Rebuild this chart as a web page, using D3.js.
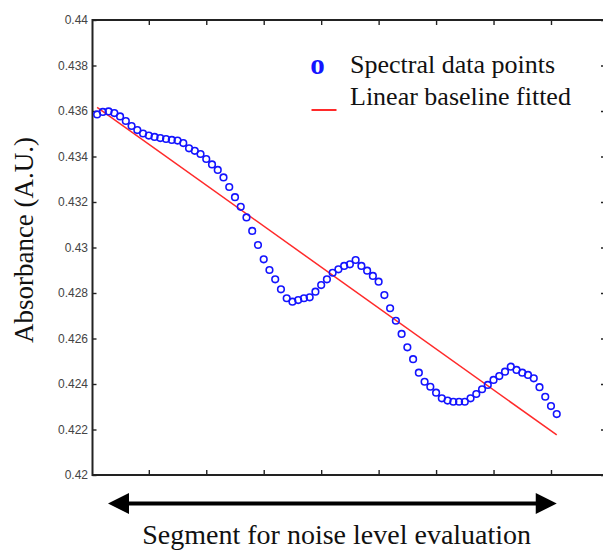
<!DOCTYPE html>
<html>
<head>
<meta charset="utf-8">
<script src="https://cdn.jsdelivr.net/npm/d3@7"></script>
<style>
  body { margin: 0; background: #fff; }
  svg { display: block; }
</style>
</head>
<body>
<svg id="chart"></svg>
<script>
// sample number of each spectral point (1..81)
const sampleIdx = [
  1, 2, 3, 4, 5, 6, 7, 8, 9, 10, 11, 12, 13, 14, 15, 16, 17, 18, 19, 20,
  21, 22, 23, 24, 25, 26, 27, 28, 29, 30, 31, 32, 33, 34, 35, 36, 37, 38, 39, 40,
  41, 42, 43, 44, 45, 46, 47, 48, 49, 50, 51, 52, 53, 54, 55, 56, 57, 58, 59, 60,
  61, 62, 63, 64, 65, 66, 67, 68, 69, 70, 71, 72, 73, 74, 75, 76, 77, 78, 79, 80, 81
];

const absorbance = [
  0.43585, 0.43596, 0.43598, 0.43591, 0.43576, 0.43556, 0.43534, 0.43516, 0.43501, 0.43492,
  0.43486, 0.43481, 0.43477, 0.43473, 0.43470, 0.43459, 0.43436, 0.43425, 0.43411, 0.43389,
  0.43365, 0.43341, 0.43308, 0.43266, 0.43221, 0.43179, 0.43132, 0.43073, 0.43011, 0.42948,
  0.42901, 0.42860, 0.42816, 0.42777, 0.42762, 0.42769, 0.42777, 0.42781, 0.42806, 0.42835,
  0.42860, 0.42889, 0.42904, 0.42919, 0.42926, 0.42945, 0.42919, 0.42898, 0.42875, 0.42850,
  0.42791, 0.42733, 0.42678, 0.42620, 0.42561, 0.42509, 0.42450, 0.42410, 0.42388, 0.42362,
  0.42337, 0.42327, 0.42322, 0.42322, 0.42322, 0.42337, 0.42356, 0.42377, 0.42396, 0.42418,
  0.42435, 0.42454, 0.42476, 0.42462, 0.42450, 0.42440, 0.42425, 0.42386, 0.42344, 0.42303,
  0.42268
];

// fitted linear baseline, end points
const baselineX = [1, 81];
const baselineY = [0.43616, 0.42176];

const xTicks = [10, 20, 30, 40, 50, 60, 70, 80];
const yTicks = [0.42, 0.422, 0.424, 0.426, 0.428, 0.43, 0.432, 0.434, 0.436, 0.438, 0.44];

// span of the noise evaluation segment (sample units)
const segment = [2.9, 81];

const legendLabels = ["Spectral data points", "Linear baseline fitted"];
const yLabel = "Absorbance (A.U.)";
const bottomLabel = "Segment for noise level evaluation";

const width = 603, height = 551;
const plot = { left: 92.5, right: 605, top: 20, bottom: 475 };

const svg = d3.select("#chart")
    .attr("width", width)
    .attr("height", height);

const x = d3.scaleLinear()
    .domain([0.2, 89.4])
    .range([plot.left, plot.right]);

const y = d3.scaleLinear()
    .domain([0.42, 0.44])
    .range([plot.bottom, plot.top]);

// axes with inward ticks
const left = svg.append("g")
    .attr("transform", "translate(" + plot.left + ",0)")
    .call(d3.axisLeft(y).tickValues(yTicks).tickSize(-4).tickPadding(4.5).tickFormat(d3.format(".3~f")));

left.selectAll("text")
    .attr("font-family", "'Liberation Sans', Arial, sans-serif")
    .attr("font-size", 12)
    .attr("fill", "#444");

svg.append("g")
    .attr("transform", "translate(" + plot.right + ",0)")
    .call(d3.axisRight(y).tickValues(yTicks).tickSize(-4).tickFormat(""));

svg.append("g")
    .attr("transform", "translate(0," + plot.bottom + ")")
    .call(d3.axisBottom(x).tickValues(xTicks).tickSize(-5).tickFormat(""));

svg.append("g")
    .attr("transform", "translate(0," + plot.top + ")")
    .call(d3.axisTop(x).tickValues(xTicks).tickSize(-5).tickFormat(""));

svg.selectAll(".domain").remove();
svg.selectAll(".tick line")
    .attr("stroke", "#222")
    .attr("stroke-width", 1.4);

// frame
svg.append("rect")
    .attr("x", plot.left)
    .attr("y", plot.top)
    .attr("width", plot.right - plot.left)
    .attr("height", plot.bottom - plot.top)
    .attr("fill", "none")
    .attr("stroke", "#222")
    .attr("stroke-width", 2);

// baseline
svg.append("line")
    .attr("x1", x(baselineX[0]))
    .attr("y1", y(baselineY[0]))
    .attr("x2", x(baselineX[1]))
    .attr("y2", y(baselineY[1]))
    .attr("stroke", "#ff2a2a")
    .attr("stroke-width", 1.5);

// spectral points
svg.append("g")
    .selectAll("circle")
    .data(sampleIdx)
    .enter().append("circle")
    .attr("cx", d => x(d))
    .attr("cy", (d, i) => y(absorbance[i]))
    .attr("r", 3.3)
    .attr("fill", "none")
    .attr("stroke", "#1414ff")
    .attr("stroke-width", 1.6);

// legend
const serif = "'Liberation Serif', 'Times New Roman', serif";

svg.append("text")
    .attr("x", 317.5)
    .attr("y", 73.5)
    .attr("text-anchor", "middle")
    .attr("font-family", serif)
    .attr("font-weight", "bold")
    .attr("font-size", 29)
    .attr("fill", "#1414ff")
    .text("o");

svg.append("line")
    .attr("x1", 311.5)
    .attr("x2", 336.5)
    .attr("y1", 110)
    .attr("y2", 110)
    .attr("stroke", "#ff2a2a")
    .attr("stroke-width", 2);

svg.selectAll(".legend-text")
    .data(legendLabels)
    .enter().append("text")
    .attr("class", "legend-text")
    .attr("x", 350)
    .attr("y", (d, i) => i === 0 ? 73.3 : 105)
    .attr("font-family", serif)
    .attr("font-size", 26)
    .attr("fill", "#111")
    .text(d => d);

// y axis title
svg.append("text")
    .attr("transform", "translate(33,240) rotate(-90)")
    .attr("text-anchor", "middle")
    .attr("font-family", serif)
    .attr("font-size", 27)
    .attr("fill", "#111")
    .text(yLabel);

// double arrow for the evaluation segment
const arrowY = 503.5, head = 21, half = 10.5;
const ax0 = x(segment[0]), ax1 = x(segment[1]);

svg.append("line")
    .attr("x1", ax0 + head - 1)
    .attr("x2", ax1 - head + 1)
    .attr("y1", arrowY)
    .attr("y2", arrowY)
    .attr("stroke", "#000")
    .attr("stroke-width", 4);

svg.append("path")
    .attr("d", "M" + ax0 + "," + arrowY + "L" + (ax0 + head) + "," + (arrowY - half) + "L" + (ax0 + head) + "," + (arrowY + half) + "Z")
    .attr("fill", "#000");

svg.append("path")
    .attr("d", "M" + ax1 + "," + arrowY + "L" + (ax1 - head) + "," + (arrowY - half) + "L" + (ax1 - head) + "," + (arrowY + half) + "Z")
    .attr("fill", "#000");

svg.append("text")
    .attr("x", 336.7)
    .attr("y", 544)
    .attr("text-anchor", "middle")
    .attr("font-family", serif)
    .attr("font-size", 28)
    .attr("fill", "#111")
    .text(bottomLabel);
</script>
</body>
</html>
